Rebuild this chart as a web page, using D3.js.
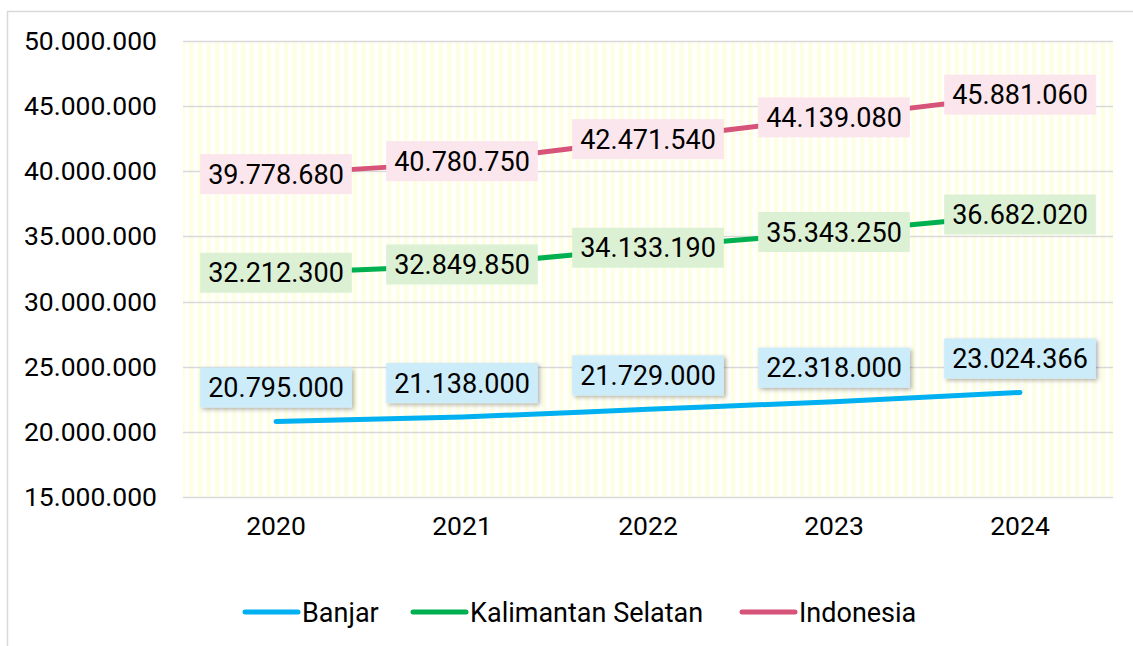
<!DOCTYPE html>
<html>
<head>
<meta charset="utf-8">
<script src="https://cdn.jsdelivr.net/npm/d3@7"></script>
<style>
  body { margin: 0; background: #fff; }
  text { font-family: Roboto, "Noto Sans", sans-serif; }
</style>
</head>
<body>
<script>
// Data
const years = ["2020", "2021", "2022", "2023", "2024"];
const banjar = [20795000, 21138000, 21729000, 22318000, 23024366];
const kalsel = [32212300, 32849850, 34133190, 35343250, 36682020];
const indonesia = [39778680, 40780750, 42471540, 44139080, 45881060];
const yTicks = [15000000, 20000000, 25000000, 30000000, 35000000, 40000000, 45000000, 50000000];

const series = [
  { name: "Banjar", values: banjar, color: "#00b0f0", labelBg: "#ccecfa", above: true },
  { name: "Kalimantan Selatan", values: kalsel, color: "#00b050", labelBg: "#dcf1d3", above: false },
  { name: "Indonesia", values: indonesia, color: "#d6537a", labelBg: "#fbe6ed", above: false }
];

const width = 1133, height = 646;
const plot = { left: 183, right: 1113, top: 41, bottom: 497 };

const locale = d3.formatLocale({ decimal: ",", thousands: ".", grouping: [3], currency: ["", ""] });
const fmt = locale.format(",d");

const svg = d3.select("body").append("svg")
  .attr("width", width)
  .attr("height", height);

// striped background pattern
const defs = svg.append("defs");
const pat = defs.append("pattern")
  .attr("id", "stripes")
  .attr("patternUnits", "userSpaceOnUse")
  .attr("width", 8.6).attr("height", 10);
pat.append("rect").attr("width", 8.6).attr("height", 10).attr("fill", "#ffffff");
pat.append("rect").attr("width", 4.3).attr("height", 10).attr("fill", "#fefee2");

const shadow = defs.append("filter").attr("id", "shadow")
  .attr("x", "-20%").attr("y", "-30%").attr("width", "140%").attr("height", "170%");
shadow.append("feDropShadow")
  .attr("dx", 2).attr("dy", 2).attr("stdDeviation", 2)
  .attr("flood-color", "#000").attr("flood-opacity", 0.3);

// outer frame (left + top only visible)
svg.append("path")
  .attr("d", `M7.5,${height} L7.5,11.5 L${width},11.5`)
  .attr("fill", "none")
  .attr("stroke", "#d9d9d9")
  .attr("stroke-width", 1.5);

const x = d3.scaleBand().domain(years).range([plot.left, plot.right]);
const y = d3.scaleLinear().domain([15000000, 50000000]).range([plot.bottom, plot.top]);

svg.append("rect")
  .attr("x", plot.left).attr("y", plot.top)
  .attr("width", plot.right - plot.left).attr("height", plot.bottom - plot.top)
  .attr("fill", "url(#stripes)");

// gridlines
svg.append("g")
  .selectAll("line")
  .data(yTicks)
  .join("line")
  .attr("x1", plot.left).attr("x2", plot.right)
  .attr("y1", d => Math.round(y(d)) + 0.5).attr("y2", d => Math.round(y(d)) + 0.5)
  .attr("stroke", "#d9d9d9")
  .attr("stroke-width", 1.5);

// y axis labels
const yAxis = svg.append("g")
  .attr("transform", `translate(${plot.left - 26},0)`)
  .call(d3.axisLeft(y).tickValues(yTicks).tickFormat(fmt).tickSize(0));
yAxis.select(".domain").remove();
yAxis.selectAll("text")
  .attr("x", 0)
  .attr("font-size", 26.5)
  .attr("font-family", "Roboto, sans-serif")
  .attr("fill", "#000");

// x axis labels
const xAxis = svg.append("g")
  .attr("transform", `translate(0,${plot.bottom + 16})`)
  .call(d3.axisBottom(x).tickSize(0));
xAxis.select(".domain").remove();
xAxis.selectAll("text")
  .attr("font-size", 26.5)
  .attr("font-family", "Roboto, sans-serif")
  .attr("fill", "#000");

const line = d3.line()
  .x((d, i) => x(years[i]) + x.bandwidth() / 2)
  .y(d => y(d))
  .curve(d3.curveMonotoneX);

series.forEach(s => {
  svg.append("path")
    .datum(s.values)
    .attr("d", line)
    .attr("fill", "none")
    .attr("stroke", s.color)
    .attr("stroke-width", 5)
    .attr("stroke-linecap", "round")
    .attr("stroke-linejoin", "round");
});

// data labels
series.forEach(s => {
  const g = svg.append("g");
  s.values.forEach((v, i) => {
    const cx = x(years[i]) + x.bandwidth() / 2;
    const cy = s.above ? y(v) - 34 : y(v);
    const lg = g.append("g").attr("transform", `translate(${cx},${cy})`);
    const rect = lg.append("rect");
    const t = lg.append("text")
      .attr("text-anchor", "middle")
      .attr("dy", "0.36em")
      .attr("font-size", 27)
      .attr("fill", "#000")
      .text(fmt(v));
    const w = t.node().getComputedTextLength() + 16;
    const h = 40;
    rect.attr("x", -w / 2).attr("y", -h / 2)
      .attr("width", w).attr("height", h)
      .attr("fill", s.labelBg);
    if (s.above) rect.attr("filter", "url(#shadow)");
  });
});

// legend
const legendItems = [
  { s: series[0], x: 245 },
  { s: series[1], x: 413 },
  { s: series[2], x: 742 }
];
const legend = svg.append("g").attr("transform", "translate(0,612)");
legendItems.forEach(d => {
  legend.append("line")
    .attr("x1", d.x).attr("x2", d.x + 53)
    .attr("y1", 0).attr("y2", 0)
    .attr("stroke", d.s.color)
    .attr("stroke-width", 5)
    .attr("stroke-linecap", "round");
  legend.append("text")
    .attr("x", d.x + 57)
    .attr("dy", "0.36em")
    .attr("font-size", 27)
    .attr("fill", "#000")
    .text(d.s.name);
});
</script>
</body>
</html>
